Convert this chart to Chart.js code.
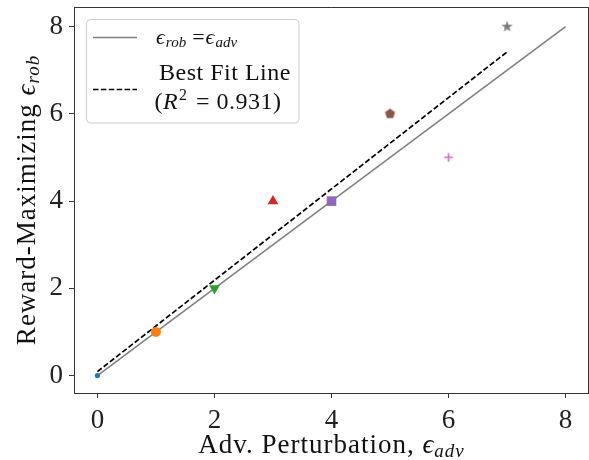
<!DOCTYPE html>
<html><head><meta charset="utf-8">
<script src="https://cdn.jsdelivr.net/npm/chart.js@4.4.1/dist/chart.umd.min.js"></script>
<style>html,body{margin:0;padding:0;background:#fff;overflow:hidden}</style>
</head><body>
<canvas id="c" width="589" height="460"></canvas>
<script>
// ---- data ----
const epsAdv = [0, 1, 2, 3, 4, 5, 6, 7];
const epsRob = [0, 1, 2, 4, 4, 6, 5, 8];
const identityX = [0, 8];
const identityY = [0, 8];
const fitX = [0, 7];
const fitY = [0.09, 7.42];
const xTicks = [0, 2, 4, 6, 8];
const yTicks = [0, 2, 4, 6, 8];
const rSquared = '0.931';
const legendFitLabel = 'Best Fit Line';

// ---- styles ----
const FONT = "'Liberation Serif', 'DejaVu Serif', serif";
const pointColors = ['#1f77b4','#ff7f0e','#2ca02c','#d62728','#9467bd','#8c564b','#e377c2','#7f7f7f'];

function polyCanvas(n, rOuter, rInner, color) {
  const s = Math.ceil(rOuter * 2 + 2);
  const c = document.createElement('canvas');
  c.width = c.height = s;
  const g = c.getContext('2d');
  g.fillStyle = color;
  g.beginPath();
  const pts = rInner ? n * 2 : n;
  for (let i = 0; i < pts; i++) {
    const r = (rInner && i % 2) ? rInner : rOuter;
    const a = -Math.PI / 2 + i * 2 * Math.PI / pts;
    g.lineTo(s / 2 + r * Math.cos(a), s / 2 + r * Math.sin(a));
  }
  g.closePath();
  g.fill();
  return c;
}
const pentagon = polyCanvas(5, 5.3, 0, pointColors[5]);
const star = polyCanvas(5, 6.0, 2.4, pointColors[7]);

const markerStyles = ['circle','circle','triangle','triangle','rect','x','cross','x'];
markerStyles[5] = pentagon;
markerStyles[7] = star;
const markerRadii = [2.6, 5, 6.2, 6.2, 6.8, 5, 4.2, 6];
const markerRot = [0, 0, 180, 0, 0, 0, 0, 0];
const markerBorder = [0, 0, 0, 0, 0, 0, 1.8, 0];

function drawRuns(ctx, runs, x, y, align) {
  let total = 0;
  runs.forEach(r => { ctx.font = r.font; r.w = ctx.measureText(r.t).width + (r.gap || 0); total += r.w; });
  let cx = align === 'center' ? x - total / 2 : x;
  runs.forEach(r => { ctx.font = r.font; ctx.fillText(r.t, cx, y + (r.dy || 0)); cx += r.w; });
}

const deco = {
  id: 'deco',
  afterDraw(chart) {
    const { ctx, chartArea: a } = chart;
    ctx.save();
    // top & right spines
    ctx.strokeStyle = '#333'; ctx.lineWidth = 1;
    ctx.beginPath();
    ctx.moveTo(a.left, a.top + 0.5); ctx.lineTo(a.right - 0.5, a.top + 0.5); ctx.lineTo(a.right - 0.5, a.bottom);
    ctx.stroke();

    // legend box
    ctx.fillStyle = 'rgba(255,255,255,0.8)';
    ctx.strokeStyle = '#cccccc'; ctx.lineWidth = 1;
    ctx.beginPath();
    ctx.roundRect(86.5, 19.5, 212.5, 103.5, 4);
    ctx.fill(); ctx.stroke();
    // legend samples
    ctx.strokeStyle = '#808080'; ctx.lineWidth = 1.6;
    ctx.beginPath(); ctx.moveTo(93, 37.5); ctx.lineTo(137, 37.5); ctx.stroke();
    ctx.strokeStyle = '#000'; ctx.setLineDash([5.5, 2.4]);
    ctx.beginPath(); ctx.moveTo(93, 89.5); ctx.lineTo(137, 89.5); ctx.stroke();
    ctx.setLineDash([]);
    // legend texts
    ctx.fillStyle = '#111'; ctx.textBaseline = 'alphabetic'; ctx.textAlign = 'left';
    drawRuns(ctx, [
      { t: '\u03f5', font: `italic 22px ${FONT}`, gap: 1 },
      { t: 'rob', font: `italic 15px ${FONT}`, dy: 3, gap: 6 },
      { t: '=', font: `22px ${FONT}`, gap: 1 },
      { t: '\u03f5', font: `italic 22px ${FONT}`, gap: 1 },
      { t: 'adv', font: `italic 15px ${FONT}`, dy: 3 }
    ], 156, 44, 'left');
    ctx.letterSpacing = '0.5px';
    drawRuns(ctx, [{ t: legendFitLabel, font: `24px ${FONT}` }], 225, 80, 'center');
    drawRuns(ctx, [
      { t: '(', font: `24px ${FONT}` },
      { t: 'R', font: `italic 24px ${FONT}`, gap: 1 },
      { t: '2', font: `16px ${FONT}`, dy: -9, gap: 2 },
      { t: ' = ' + rSquared + ')', font: `24px ${FONT}` }
    ], 218, 109, 'center');

    // x title
    ctx.letterSpacing = '1px';
    ctx.fillStyle = '#111';
    drawRuns(ctx, [
      { t: 'Adv. Perturbation, ', font: `27px ${FONT}` },
      { t: '\u03f5', font: `italic 27px ${FONT}` },
      { t: 'adv', font: `italic 19px ${FONT}`, dy: 4 }
    ], (a.left + a.right) / 2, 453, 'center');

    // y title
    ctx.translate(35, (a.top + a.bottom) / 2);
    ctx.rotate(-Math.PI / 2);
    drawRuns(ctx, [
      { t: 'Reward-Maximizing ', font: `27px ${FONT}` },
      { t: '\u03f5', font: `italic 27px ${FONT}` },
      { t: 'rob', font: `italic 19px ${FONT}`, dy: 4 }
    ], 0, 0, 'center');
    ctx.restore();
  }
};

new Chart(document.getElementById('c'), {
  type: 'scatter',
  data: {
    datasets: [
      {
        label: 'points',
        data: epsAdv.map((x, i) => ({ x, y: epsRob[i] })),
        pointStyle: markerStyles,
        pointRadius: markerRadii,
        pointRotation: markerRot,
        pointBackgroundColor: pointColors,
        pointBorderColor: pointColors,
        pointBorderWidth: markerBorder,
        order: 0
      },
      {
        label: 'fit',
        data: fitX.map((x, i) => ({ x, y: fitY[i] })),
        showLine: true, borderColor: '#000', borderWidth: 1.7, borderDash: [5.5, 2.4],
        pointRadius: 0, order: 1
      },
      {
        label: 'identity',
        data: identityX.map((x, i) => ({ x, y: identityY[i] })),
        showLine: true, borderColor: '#808080', borderWidth: 1.6,
        pointRadius: 0, order: 2
      }
    ]
  },
  options: {
    responsive: false, animation: false, events: [],
    layout: { autoPadding: false, padding: { left: 0, top: 7, right: 0, bottom: 0 } },
    plugins: { legend: { display: false }, tooltip: { enabled: false } },
    scales: {
      x: {
        type: 'linear', min: -0.4, max: 8.4,
        afterBuildTicks: s => { s.ticks = xTicks.map(v => ({ value: v })); },
        afterFit: s => { s.height = 67; s.paddingLeft = 0; s.paddingRight = 0; },
        grid: { display: true, drawOnChartArea: false, drawTicks: true, tickLength: 5, color: '#333', tickWidth: 1 },
        border: { display: true, color: '#333', width: 1 },
        ticks: { font: { family: FONT, size: 27 }, color: '#222', padding: 7, maxRotation: 0 }
      },
      y: {
        type: 'linear', min: -0.4, max: 8.45,
        afterBuildTicks: s => { s.ticks = yTicks.map(v => ({ value: v })); },
        afterFit: s => { s.width = 74; s.paddingTop = 0; s.paddingBottom = 0; },
        grid: { display: true, drawOnChartArea: false, drawTicks: true, tickLength: 5, color: '#333', tickWidth: 1 },
        border: { display: true, color: '#333', width: 1 },
        ticks: { font: { family: FONT, size: 27 }, color: '#222', padding: 6 }
      }
    }
  },
  plugins: [deco]
});
</script>
</body></html>
